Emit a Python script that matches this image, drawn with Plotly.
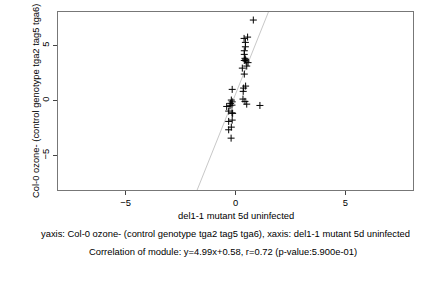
import plotly.graph_objects as go
import numpy as np

x_vals = [0.81, 0.39, 0.55, 0.45, 0.45, 0.40, 0.40, 0.43, 0.46, 0.40, 0.48, 0.57, 0.51, 0.31, 0.40,
          -0.15, 0.46, 0.37, 0.35, 0.34, 0.43, 0.51, 1.11, -0.19, -0.15, -0.22, -0.16, -0.25, -0.40,
          -0.31, -0.16, -0.13, -0.15, -0.31, -0.19, -0.31, -0.20]
y_vals = [7.32, 5.65, 5.77, 5.29, 4.89, 4.53, 4.20, 3.84, 3.71, 3.65, 3.59, 3.45, 3.14, 2.95, 2.41,
          1.02, 1.32, 1.14, 0.84, 0.14, -0.07, -0.32, -0.44, 0.05, -0.11, -0.25, -0.41, -0.47, -0.53,
          -0.95, -1.11, -1.16, -1.77, -1.89, -2.41, -2.65, -3.41]
slope = 4.99
intercept = 0.58
x_range = [-8.07, 8.07]
y_range = [-8.12, 8.05]
tick_vals = [-5, 0, 5]

x_title = "del1-1 mutant 5d uninfected"
y_title = "Col-0 ozone- (control genotype tga2 tag5 tga6)"
caption1 = "yaxis: Col-0 ozone- (control genotype tga2 tag5 tga6), xaxis: del1-1 mutant 5d uninfected"
caption2 = "Correlation of module: y=4.99x+0.58, r=0.72 (p-value:5.900e-01)"

FONT = "Liberation Sans, Arial, sans-serif"
FS = 9.4

lx = np.linspace(x_range[0], x_range[1], 200)
ly = slope * lx + intercept

fig = go.Figure()
fig.add_trace(go.Scatter(x=lx, y=ly, mode="lines", line=dict(color="#c8c8c8", width=1),
                         hoverinfo="skip", showlegend=False))
fig.add_trace(go.Scatter(x=x_vals, y=y_vals, mode="markers",
                         marker=dict(symbol="cross-thin", size=5, line=dict(color="black", width=1)),
                         showlegend=False))

L, R, T, B = 58, 19, 12, 98
W, H = 432, 288
pw, ph = W - L - R, H - T - B

def px_to_paper_y(py):
    return (H - B - py) / ph

def px_to_paper_x(px):
    return (px - L) / pw

fig.update_layout(
    width=W, height=H,
    margin=dict(l=L, r=R, t=T, b=B),
    paper_bgcolor="white", plot_bgcolor="white",
    font=dict(family=FONT, size=FS, color="black"),
    xaxis=dict(range=x_range, tickvals=tick_vals, ticks="outside", ticklen=4, tickcolor="#444",
               showgrid=False, zeroline=False, showline=True, mirror=True, linecolor="#777",
               linewidth=1, tickfont=dict(size=FS)),
    yaxis=dict(range=y_range, tickvals=tick_vals, ticks="outside", ticklen=4, tickcolor="#444",
               showgrid=False, zeroline=False, showline=True, mirror=True, linecolor="#777",
               linewidth=1, tickangle=-90, tickfont=dict(size=FS)),
    annotations=[
        dict(text=x_title, xref="paper", yref="paper", x=0.5, y=px_to_paper_y(215),
             xanchor="center", yanchor="middle", showarrow=False, font=dict(size=FS)),
        dict(text=y_title, xref="paper", yref="paper", x=px_to_paper_x(35), y=px_to_paper_y(101),
             xanchor="center", yanchor="middle", textangle=-90, showarrow=False, font=dict(size=FS)),
        dict(text=caption1, xref="paper", yref="paper", x=px_to_paper_x(225), y=px_to_paper_y(233),
             xanchor="center", yanchor="middle", showarrow=False, font=dict(size=FS)),
        dict(text=caption2, xref="paper", yref="paper", x=px_to_paper_x(223), y=px_to_paper_y(251),
             xanchor="center", yanchor="middle", showarrow=False, font=dict(size=FS)),
    ],
)

fig.write_html("out.html")
